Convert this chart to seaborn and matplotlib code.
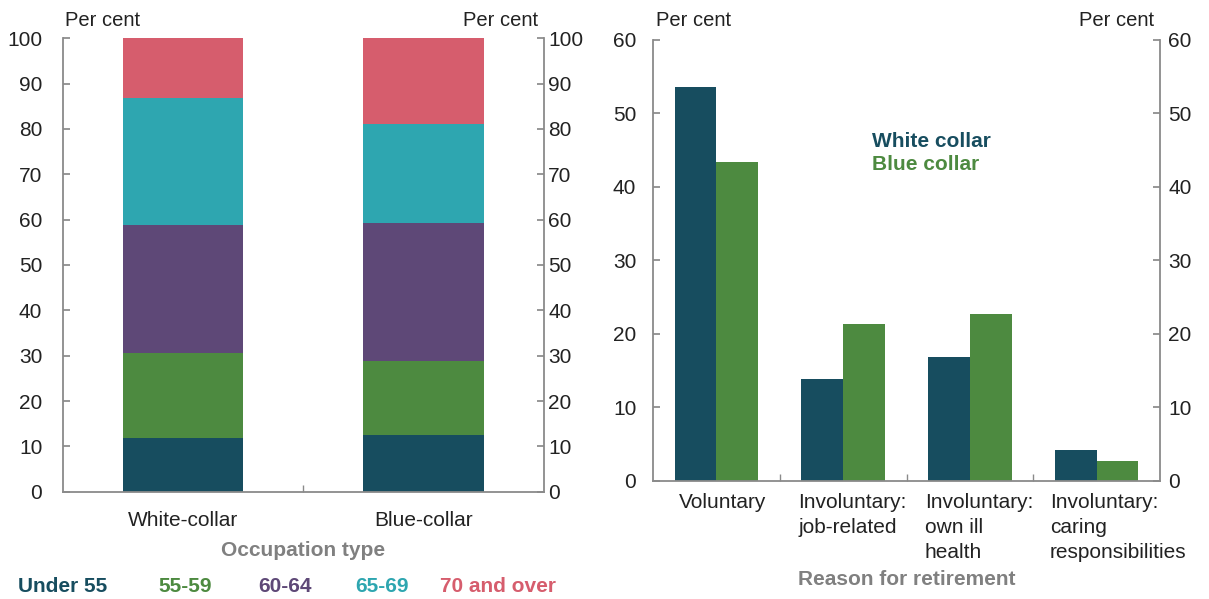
import numpy as np
import pandas as pd
import matplotlib
matplotlib.use("Agg")
import matplotlib.pyplot as plt
import matplotlib.transforms as mtrans
import seaborn as sns

# ---- data ----
occupations = ["White-collar", "Blue-collar"]
age_groups = ["Under 55", "55-59", "60-64", "65-69", "70 and over"]
under55 = [11.9, 12.6]
a55_59 = [18.7, 16.3]
a60_64 = [28.3, 30.4]
a65_69 = [27.9, 21.9]
a70_over = [13.2, 18.8]

reasons = ["Voluntary", "Involuntary:\njob-related", "Involuntary:\nown ill\nhealth",
           "Involuntary:\ncaring\nresponsibilities"]
white_collar = [53.6, 13.8, 16.8, 4.2]
blue_collar = [43.3, 21.4, 22.7, 2.7]
series_names = ["White collar", "Blue collar"]

left_ticks = [0, 10, 20, 30, 40, 50, 60, 70, 80, 90, 100]
right_ticks = [0, 10, 20, 30, 40, 50, 60]

# ---- style ----
sns.set_theme(style="white")
plt.rcParams["font.family"] = ["Liberation Sans", "DejaVu Sans"]

c_dark = "#174d5f"
c_green = "#4d8a40"
c_purple = "#5e4877"
c_teal = "#2ea6b0"
c_pink = "#d65d6d"
age_colors = [c_dark, c_green, c_purple, c_teal, c_pink]
text_col = "#222222"
spine_col = "#8a8a8a"
title_col = "#808080"
FS = 15

fig = plt.figure(figsize=(12.09, 5.99), dpi=100)
ax1 = fig.add_axes([0.0517, 0.1791, 0.3983, 0.757])
ax2 = fig.add_axes([0.5401, 0.197, 0.4194, 0.737])


def style_axis(ax, ticks, ymax, pad_left, pad_right, pc_off):
    ax.set_ylim(0, ymax)
    ax.set_yticks(ticks)
    ax.set_yticklabels([str(t) for t in ticks])
    for s in ["left", "right", "bottom"]:
        ax.spines[s].set_visible(True)
        ax.spines[s].set_color(spine_col)
        ax.spines[s].set_linewidth(1.3)
    ax.spines["top"].set_visible(False)
    ax.tick_params(axis="y", which="both", left=True, right=False, labelleft=True,
                   labelright=False, direction="in", length=5, color=spine_col,
                   labelsize=FS, labelcolor=text_col, pad=pad_left)
    ax.set_xlabel("")
    ax.set_ylabel("")
    tw = ax.twinx()
    tw.set_ylim(0, ymax)
    tw.set_yticks(ticks)
    tw.set_yticklabels([str(t) for t in ticks])
    for s in tw.spines.values():
        s.set_visible(False)
    tw.tick_params(axis="y", right=True, left=False, labelright=True, labelleft=False,
                   direction="in", length=5, color=spine_col, labelsize=FS,
                   labelcolor=text_col, pad=pad_right)
    tw.grid(False)
    ax.text(0.006, 1 + pc_off, "Per cent", transform=ax.transAxes, ha="left",
            va="center", fontsize=14.5, color=text_col)
    ax.text(0.988, 1 + pc_off, "Per cent", transform=ax.transAxes, ha="right",
            va="center", fontsize=14.5, color=text_col)


# ---- left: stacked bars (cumulative, drawn top-down) ----
layers = [under55, a55_59, a60_64, a65_69, a70_over]
cum = np.cumsum(np.array(layers), axis=0)
for i in range(len(layers) - 1, -1, -1):
    df = pd.DataFrame({"occ": occupations, "val": cum[i]})
    sns.barplot(data=df, x="occ", y="val", color=age_colors[i], width=0.5,
                saturation=1, ax=ax1, linewidth=0)
ax1.set_xlim(-0.5, 1.5)
ax1.set_xticks([0, 1])
ax1.set_xticklabels(occupations)
ax1.tick_params(axis="x", bottom=False, labelsize=FS, labelcolor=text_col, pad=8)
ax1.set_xticks([0.5], minor=True)
ax1.tick_params(axis="x", which="minor", bottom=True, direction="in", length=5,
                color=spine_col)
style_axis(ax1, left_ticks, 100, 14.5, 3, 0.04)
ax1.text(0.5, -0.13, "Occupation type", transform=ax1.transAxes, ha="center",
         va="center", fontsize=FS, fontweight="bold", color=title_col)
legend_x = [18, 158, 258, 355, 440]
for name, col, xp in zip(age_groups, age_colors, legend_x):
    fig.text(xp / 1209, 1 - 587 / 599, name, ha="left", va="center", fontsize=FS,
             fontweight="bold", color=col)

# ---- right: grouped bars ----
long = pd.DataFrame({
    "reason": reasons * 2,
    "series": [series_names[0]] * 4 + [series_names[1]] * 4,
    "val": white_collar + blue_collar,
})
sns.barplot(data=long, x="reason", y="val", hue="series", hue_order=series_names,
            palette=[c_dark, c_green], width=0.66, saturation=1, gap=0,
            ax=ax2, linewidth=0, legend=False)
ax2.set_xlim(-0.5, 3.5)
ax2.set_xticks([0, 1, 2, 3])
ax2.set_xticklabels(reasons, ha="left", va="top", linespacing=1.38)
ax2.tick_params(axis="x", bottom=False, labelsize=FS, labelcolor=text_col, pad=3)
offsets = [-0.37, -0.45, -0.45, -0.47]
for lab, off in zip(ax2.get_xticklabels(), offsets):
    lab.set_transform(lab.get_transform() + mtrans.ScaledTranslation(off, 0, fig.dpi_scale_trans))
ax2.set_xticks([0.5, 1.5, 2.5], minor=True)
ax2.tick_params(axis="x", which="minor", bottom=True, direction="in", length=5,
                color=spine_col)
style_axis(ax2, right_ticks, 60, 12, 6, 0.044)
ax2.text(0.5, -0.222, "Reason for retirement", transform=ax2.transAxes, ha="center",
         va="center", fontsize=FS, fontweight="bold", color=title_col)
ax2.text(0.432, 0.768, "White collar", transform=ax2.transAxes, ha="left",
         va="center", fontsize=FS, fontweight="bold", color=c_dark)
ax2.text(0.432, 0.718, "Blue collar", transform=ax2.transAxes, ha="left",
         va="center", fontsize=FS, fontweight="bold", color=c_green)

fig.savefig("out.png", dpi=100)
